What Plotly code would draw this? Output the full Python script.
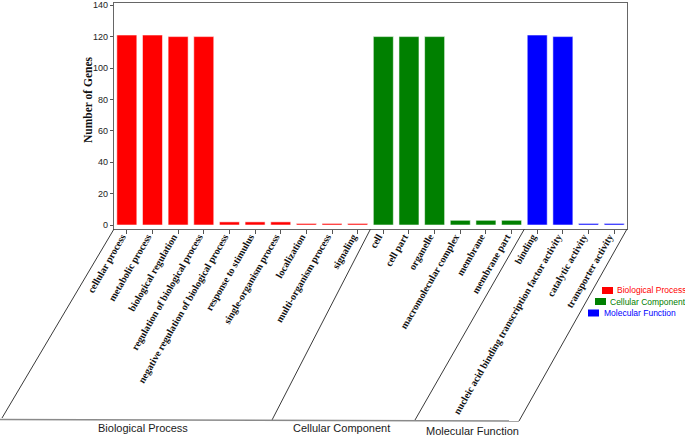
import plotly.graph_objects as go

# ---- data ----
bp_terms = ["cellular process", "metabolic process", "biological regulation",
            "regulation of biological process", "negative regulation of biological process",
            "response to stimulus", "single-organism process", "localization",
            "multi-organism process", "signaling"]
bp_values = [121, 121, 120, 120, 2, 2, 2, 1, 1, 1]

cc_terms = ["cell", "cell part", "organelle", "macromolecular complex", "membrane", "membrane part"]
cc_values = [120, 120, 120, 3, 3, 3]

mf_terms = ["binding", "nucleic acid binding transcription factor activity",
            "catalytic activity", "transporter activity"]
mf_values = [121, 120, 1, 1]

groups = ["Biological Process", "Cellular Component", "Molecular Function"]
colors = ["#FF0000", "#008000", "#0000FF"]

W, H = 685, 437
L, R, T, B = 114, 627, 3, 229  # plot area in pixels


def px(x):
    return (x - L) / (R - L)


def py(y):
    return (B - y) / (B - T)


fig = go.Figure()
for name, terms, vals, col in zip(groups, [bp_terms, cc_terms, mf_terms],
                                  [bp_values, cc_values, mf_values], colors):
    fig.add_trace(go.Bar(x=terms, y=vals, name=name, marker_color=col,
                         marker_line_color="rgba(255,255,255,0.55)", marker_line_width=1,
                         showlegend=False))

all_terms = bp_terms + cc_terms + mf_terms

shapes = []
line_dark = dict(color="#3a3a3a", width=1)
# slanted separators
for (x0, y0, x1, y1) in [(114, 229, 2, 418), (370.5, 229, 272, 420),
                         (524.4, 229, 415, 420), (627, 229, 519, 421)]:
    shapes.append(dict(type="line", xref="paper", yref="paper",
                       x0=px(x0), y0=py(y0), x1=px(x1), y1=py(y1), line=line_dark))
# bottom baseline
shapes.append(dict(type="line", xref="paper", yref="paper",
                   x0=px(0), y0=py(419.5), x1=px(519), y1=py(421),
                   line=dict(color="#8a8a8a", width=1.5)))

# legend boxes
leg = [(602, 287, "Biological Process", 615, 290),
       (595, 298, "Cellular Component", 608, 301.5),
       (588, 309.5, "Molecular Function", 601.5, 313)]
annotations = []
for (bx, by, txt, tx, ty), col in zip(leg, colors):
    shapes.append(dict(type="rect", xref="paper", yref="paper",
                       x0=px(bx), x1=px(bx + 11), y0=py(by), y1=py(by + 7),
                       fillcolor=col, line=dict(width=0)))
    annotations.append(dict(text=txt, xref="paper", yref="paper", x=px(tx), y=py(ty),
                            xanchor="left", yanchor="middle", showarrow=False,
                            font=dict(family="Liberation Sans, Arial", size=8.5, color=col)))

# group labels
for txt, cx, cy in [("Biological Process", 143, 428), ("Cellular Component", 341, 428),
                    ("Molecular Function", 472, 431)]:
    annotations.append(dict(text=txt, xref="paper", yref="paper", x=px(cx), y=py(cy),
                            xanchor="center", yanchor="middle", showarrow=False,
                            font=dict(family="Liberation Sans, Arial", size=11, color="#1a1a1a")))

# y-axis title
annotations.append(dict(text="<b>Number of Genes</b>", xref="paper", yref="paper",
                        x=px(88), y=py(100), textangle=-90, showarrow=False,
                        xanchor="center", yanchor="middle",
                        font=dict(family="Liberation Serif, Times New Roman", size=11.5,
                                  color="#111")))

fig.update_layout(
    width=W, height=H,
    margin=dict(l=L, r=W - R, t=T, b=H - B, pad=0),
    paper_bgcolor="white", plot_bgcolor="white",
    bargap=0.22, barmode="group",
    shapes=shapes, annotations=annotations,
    showlegend=False,
)
fig.update_xaxes(type="category", categoryorder="array", categoryarray=all_terms,
                 range=[-0.5, len(all_terms) - 0.5],
                 tickangle=-60, ticks="outside", ticklen=4, tickcolor="#555",
                 ticklabelstandoff=-7, ticklabelshift=-5,
                 tickfont=dict(family="Liberation Serif, Times New Roman", size=10,
                               color="#111", weight="bold"),
                 showline=True, linecolor="#666", linewidth=1.2, mirror=True,
                 showgrid=False, automargin=False)
fig.update_yaxes(range=[-2.55, 141.4], tickmode="array", tickvals=[0, 20, 40, 60, 80, 100, 120, 140],
                 ticks="outside", ticklen=3, tickcolor="#555",
                 tickfont=dict(family="Liberation Sans, Arial", size=9, color="#222"),
                 showline=True, linecolor="#666", linewidth=1.2, mirror=True,
                 showgrid=False, zeroline=False, automargin=False)

fig.write_html("out.html", config={"displayModeBar": False},
               post_script="document.body.style.margin='0';")
